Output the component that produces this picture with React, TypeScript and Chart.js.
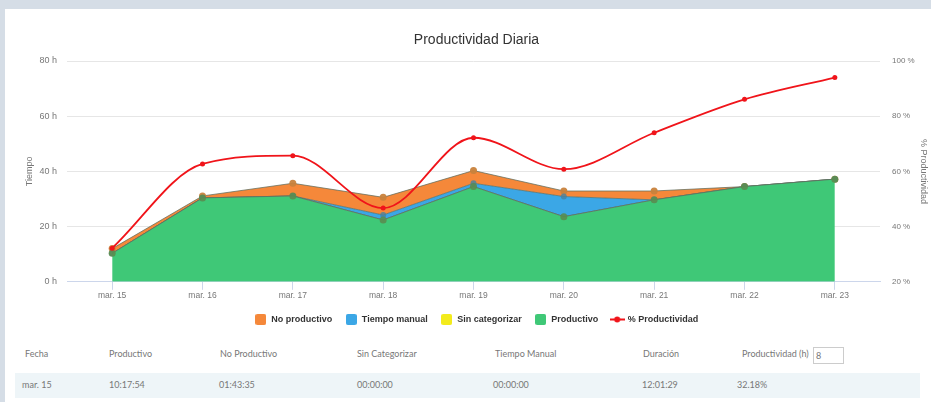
import React, { useEffect, useRef } from "react";
import { Chart, registerables } from "chart.js";

Chart.register(...registerables);

const categories = ["mar. 15", "mar. 16", "mar. 17", "mar. 18", "mar. 19", "mar. 20", "mar. 21", "mar. 22", "mar. 23"];
const productivo = [10.3, 30.4, 31.1, 22.4, 34.5, 23.6, 29.7, 34.5, 37.2];
const sinCategorizar = [0, 0, 0, 0, 0, 0, 0, 0, 0];
const tiempoManual = [0, 0, 0, 1.8, 1.2, 7.3, 0, 0, 0];
const noProductivo = [1.73, 0.7, 4.6, 6.4, 4.6, 2.0, 3.2, 0, 0];
const productividad = [32.2, 62.7, 65.7, 46.7, 72.2, 60.8, 74.0, 86.1, 94.0];

const legendOrder = ["No productivo", "Tiempo manual", "Sin categorizar", "Productivo", "% Productividad"];

const tableHeaders = ["Fecha", "Productivo", "No Productivo", "Sin Categorizar", "Tiempo Manual", "Duración", "Productividad (h)"];
const tableRow = ["mar. 15", "10:17:54", "01:43:35", "00:00:00", "00:00:00", "12:01:29", "32.18%"];
const headerX = [25, 109, 220, 357, 495, 643, 742];
const rowX = [22, 109, 219, 357, 493, 642, 737];

const FONT = "'Liberation Sans', Arial, sans-serif";

function makeBox(color: string) {
  const c = document.createElement("canvas");
  c.width = 11;
  c.height = 11;
  const x = c.getContext("2d")!;
  x.fillStyle = color;
  x.beginPath();
  (x as any).roundRect ? (x as any).roundRect(0, 0, 11, 11, 2) : x.rect(0, 0, 11, 11);
  x.fill();
  return c;
}

function makeLineDot(color: string) {
  const c = document.createElement("canvas");
  c.width = 15;
  c.height = 9;
  const x = c.getContext("2d")!;
  x.strokeStyle = color;
  x.lineWidth = 2;
  x.beginPath();
  x.moveTo(0, 4.5);
  x.lineTo(15, 4.5);
  x.stroke();
  x.fillStyle = color;
  x.beginPath();
  x.arc(7.5, 4.5, 3, 0, Math.PI * 2);
  x.fill();
  return c;
}

export default function App() {
  const ref = useRef<HTMLCanvasElement>(null);

  useEffect(() => {
    document.body.style.margin = "0";
    const green = "#3fc877";
    const yellow = "#f3eb1c";
    const blue = "#3ba7e6";
    const orange = "#f5883a";
    const red = "#f0141a";
    const styles: Record<string, HTMLCanvasElement> = {
      "Productivo": makeBox(green),
      "Sin categorizar": makeBox(yellow),
      "Tiempo manual": makeBox(blue),
      "No productivo": makeBox(orange),
      "% Productividad": makeLineDot(red),
    };
    const areaLine = "rgba(95,110,95,0.75)";
    const chart = new Chart(ref.current!, {
      type: "line",
      data: {
        labels: categories,
        datasets: [
          {
            label: "Productivo", data: productivo, yAxisID: "y", fill: "origin",
            backgroundColor: green, borderColor: areaLine, borderWidth: 1,
            pointRadius: 3.5, pointBackgroundColor: "rgba(90,140,80,0.9)", pointBorderWidth: 0,
            tension: 0, order: 1,
          },
          {
            label: "Sin categorizar", data: sinCategorizar, yAxisID: "y", fill: "-1",
            backgroundColor: yellow, borderColor: areaLine, borderWidth: 1,
            pointRadius: 0, tension: 0, order: 1,
          },
          {
            label: "Tiempo manual", data: tiempoManual, yAxisID: "y", fill: "-1",
            backgroundColor: blue, borderColor: areaLine, borderWidth: 1,
            pointRadius: 3, pointBackgroundColor: "rgba(70,130,160,0.8)", pointBorderWidth: 0,
            tension: 0, order: 1,
          },
          {
            label: "No productivo", data: noProductivo, yAxisID: "y", fill: "-1",
            backgroundColor: orange, borderColor: areaLine, borderWidth: 1,
            pointRadius: 3.5, pointBackgroundColor: "rgba(200,130,60,0.95)", pointBorderWidth: 0,
            tension: 0, order: 1,
          },
          {
            label: "% Productividad", data: productividad, yAxisID: "y1", fill: false,
            borderColor: red, backgroundColor: red, borderWidth: 1.8,
            pointRadius: 2.5, pointBackgroundColor: red, pointBorderWidth: 0,
            cubicInterpolationMode: "monotone", order: 0,
          },
        ],
      },
      options: {
        responsive: false,
        animation: false,
        layout: { padding: { left: 17, right: 0, top: 0, bottom: 0 } },
        plugins: {
          tooltip: { enabled: false },
          title: {
            display: true,
            text: "Productividad Diaria",
            color: "#333",
            font: { family: FONT, size: 14, weight: "normal" },
            padding: { top: 22.6, bottom: 12.6 },
          },
          legend: {
            position: "bottom",
            labels: {
              usePointStyle: true,
              pointStyleWidth: 12,
              padding: 13,
              color: "#333",
              font: { family: FONT, size: 9, weight: "bold" },
              generateLabels: (ch: any) => {
                const items = Chart.defaults.plugins.legend.labels.generateLabels(ch);
                return items.map((it: any) => ({ ...it, pointStyle: styles[it.text], fontColor: "#333" }));
              },
              sort: (a: any, b: any) => legendOrder.indexOf(a.text) - legendOrder.indexOf(b.text),
            },
          },
        },
        scales: {
          x: {
            offset: true,
            grid: { offset: false, drawOnChartArea: false, drawTicks: true, tickLength: 8, color: "#ccd6eb" },
            border: { color: "#ccd6eb" },
            ticks: { padding: 1, color: "#777", font: { family: FONT, size: 8.5 }, maxRotation: 0, autoSkip: false },
          },
          y: {
            position: "left",
            stacked: true,
            min: 0,
            max: 80,
            ticks: { stepSize: 20, padding: 10, color: "#777", font: { family: FONT, size: 9 }, callback: (v: any) => v + " h" },
            grid: { color: "#e6e6e6", drawTicks: false },
            border: { display: false },
            title: { display: true, text: "Tiempo", color: "#777", font: { family: FONT, size: 9 }, padding: { top: 2.6, bottom: 0 } },
            afterFit: (s: any) => { s.width = 45; },
          },
          y1: {
            position: "right",
            min: 20,
            max: 100,
            ticks: { stepSize: 20, padding: 12, color: "#777", font: { family: FONT, size: 8 }, callback: (v: any) => v + " %" },
            grid: { drawOnChartArea: false, drawTicks: false },
            border: { display: false },
            title: { display: true, text: "% Productividad", color: "#777", font: { family: FONT, size: 9 }, padding: { top: 2.6, bottom: 0 } },
            afterFit: (s: any) => { s.width = 51; },
          },
        },
      },
    } as any);
    return () => chart.destroy();
  }, []);

  const textStyle: React.CSSProperties = {
    position: "absolute",
    fontFamily: "Lato, 'Open Sans', sans-serif",
    fontSize: 9,
    color: "#777",
    whiteSpace: "nowrap",
    lineHeight: "12px",
  };

  return (
    <div style={{ position: "relative", width: 931, height: 402, background: "#d5dde6", overflow: "hidden" }}>
      <div style={{ position: "absolute", left: 5, top: 9, width: 926, height: 393, background: "#ffffff" }} />
      <canvas
        ref={ref}
        width={926}
        height={325}
        style={{ position: "absolute", left: 5, top: 9, width: 926, height: 325 }}
      />
      {tableHeaders.map((h, i) => (
        <span key={"h" + i} style={{ ...textStyle, left: headerX[i], top: 348 }}>{h}</span>
      ))}
      <div style={{ position: "absolute", left: 813, top: 347, width: 31, height: 17, border: "1px solid #ccc", background: "#fff", boxSizing: "border-box" }}>
        <span style={{ ...textStyle, left: 2, top: 1.5 }}>8</span>
      </div>
      <div style={{ position: "absolute", left: 15, top: 373, width: 905, height: 25, background: "#eef5f8" }} />
      {tableRow.map((t, i) => (
        <span key={"r" + i} style={{ ...textStyle, left: rowX[i], top: 379 }}>{t}</span>
      ))}
    </div>
  );
}
